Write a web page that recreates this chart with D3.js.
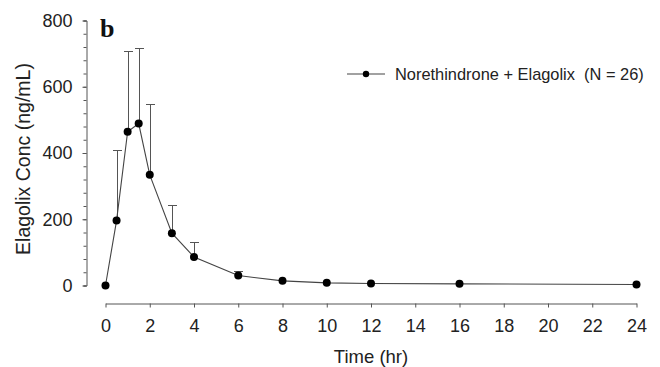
<!DOCTYPE html>
<html>
<head>
<meta charset="utf-8">
<script src="https://cdn.jsdelivr.net/npm/d3@7"></script>
<style>
  body { margin: 0; background: #fff; }
  text { font-family: Arial, "Liberation Sans", sans-serif; fill: #222; }
</style>
</head>
<body>
<div id="chart"></div>
<script>
var svgWidth = 660;
var svgHeight = 367;

// Data
var times = [0, 0.5, 1, 1.5, 2, 3, 4, 6, 8, 10, 12, 16, 24];
var meanConc = [0, 196, 464, 489, 334, 158, 86, 30, 14, 8, 6, 5, 3];
var sdUpper = [0, 409, 707, 717, 549, 243, 131, 43, 14, 8, 6, 5, 3];
var xTicks = [0, 2, 4, 6, 8, 10, 12, 14, 16, 18, 20, 22, 24];
var yTicks = [0, 200, 400, 600, 800];
var yMinorTicks = d3.range(0, 801, 40);

var svg = d3.select("#chart")
  .append("svg")
  .attr("width", svgWidth)
  .attr("height", svgHeight);

// Scales
var xScale = d3.scaleLinear().domain([0, 24]).range([105.5, 636.5]);
var yScale = d3.scaleLinear().domain([0, 800]).range([285.5, 20.5]);

// Y axis (minor ticks first, then major with labels)
svg.append("g")
  .attr("transform", "translate(86.5,0)")
  .call(d3.axisLeft(yScale).tickValues(yMinorTicks).tickSize(3).tickFormat(""))
  .call(function(g) {
    g.select(".domain").attr("stroke", "#555");
    g.selectAll(".tick line").attr("stroke", "#555");
  });

svg.append("g")
  .attr("transform", "translate(86.5,0)")
  .call(d3.axisLeft(yScale).tickValues(yTicks).tickSize(4).tickSizeOuter(0).tickPadding(10))
  .call(function(g) {
    g.select(".domain").remove();
    g.selectAll(".tick line").attr("stroke", "#555");
    g.selectAll(".tick text").attr("font-size", "18px").attr("fill", "#222");
  });

// X axis
svg.append("g")
  .attr("transform", "translate(0,303.5)")
  .call(d3.axisBottom(xScale).tickValues(xTicks).tickSize(4).tickSizeOuter(0).tickPadding(12))
  .call(function(g) {
    g.select(".domain").attr("stroke", "#555");
    g.selectAll(".tick line").attr("stroke", "#555");
    g.selectAll(".tick text").attr("font-size", "18px").attr("fill", "#222");
  });

// Axis titles
svg.append("text")
  .attr("x", (xScale(0) + xScale(24)) / 2)
  .attr("y", 363)
  .attr("text-anchor", "middle")
  .attr("font-size", "18.5px")
  .text("Time (hr)");

svg.append("text")
  .attr("transform", "translate(30,159) rotate(-90)")
  .attr("text-anchor", "middle")
  .attr("font-size", "19.5px")
  .text("Elagolix Conc (ng/mL)");

// Panel letter
svg.append("text")
  .attr("x", 100)
  .attr("y", 37)
  .attr("font-weight", "bold")
  .attr("font-size", "26px")
  .style("font-family", "'Liberation Serif', 'Times New Roman', serif")
  .style("fill", "#111")
  .text("b");

var points = times.map(function(t, i) {
  return { t: t, mean: meanConc[i], upper: sdUpper[i] };
});

// Error bars (upper only)
var bars = svg.append("g").attr("stroke", "#555").attr("stroke-width", 1);
points.filter(function(d) { return d.upper - d.mean > 3; }).forEach(function(d) {
  var x = Math.round(xScale(d.t)) + 0.5;
  var yTop = Math.round(yScale(d.upper)) + 0.5;
  bars.append("line")
    .attr("x1", x).attr("x2", x)
    .attr("y1", yScale(d.mean)).attr("y2", yTop);
  bars.append("line")
    .attr("x1", x - 4.5).attr("x2", x + 4.5)
    .attr("y1", yTop).attr("y2", yTop);
});

// Mean line
var line = d3.line()
  .x(function(d) { return xScale(d.t); })
  .y(function(d) { return yScale(d.mean); });

svg.append("path")
  .datum(points)
  .attr("d", line)
  .attr("fill", "none")
  .attr("stroke", "#444")
  .attr("stroke-width", 1.1);

svg.selectAll(".pt")
  .data(points)
  .enter()
  .append("circle")
  .attr("class", "pt")
  .attr("cx", function(d) { return xScale(d.t); })
  .attr("cy", function(d) { return yScale(d.mean); })
  .attr("r", 4)
  .attr("fill", "#000");

// Legend
var legend = svg.append("g");
legend.append("line")
  .attr("x1", 347).attr("x2", 385)
  .attr("y1", 74).attr("y2", 74)
  .attr("stroke", "#444").attr("stroke-width", 1.1);
legend.append("circle")
  .attr("cx", 366).attr("cy", 74).attr("r", 3.2).attr("fill", "#000");
legend.append("text")
  .attr("x", 395)
  .attr("y", 80)
  .attr("font-size", "16.4px")
  .style("white-space", "pre")
  .text("Norethindrone + Elagolix  (N = 26)");
</script>
</body>
</html>
